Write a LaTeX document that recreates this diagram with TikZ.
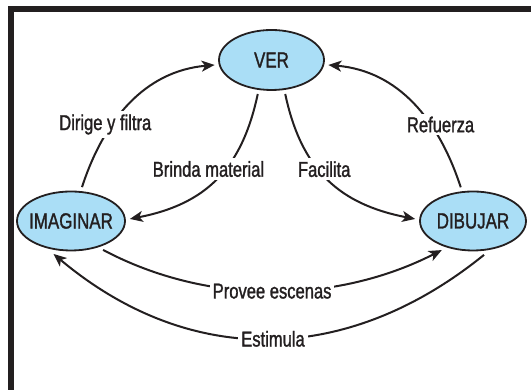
\documentclass[tikz,border=0pt]{standalone}
\usepackage{fontspec}
\setmainfont{Liberation Sans}[FakeStretch=0.77, UprightFeatures={FakeBold=1.3}]
\usetikzlibrary{shapes.geometric,arrows.meta}
\definecolor{ink}{RGB}{35,31,32}
\definecolor{bubble}{RGB}{170,222,246}

\begin{document}
\begin{tikzpicture}[
x=1pt, y=1pt,
stage/.style={
  ellipse,
  draw=ink,
  line width=1.8pt,
  fill=bubble,
  text=ink,
  inner xsep=-12pt,
  inner ysep=0pt,
  outer sep=5pt,
  font=\fontsize{22}{24}\selectfont
  },
tag/.style={
  fill=white,
  text=ink,
  inner sep=3pt,
  font=\fontsize{21.5}{24}\selectfont
  },
flow/.style={
  ->,
  draw=ink,
  line width=2pt
  },
>={Stealth[length=13pt,width=11pt,inset=3.5pt]}
]
\useasboundingbox (0,0) rectangle (531,390);
% frame
\draw[ink, line width=6pt, line join=miter] (10.5,0) -- (10.5,381) -- (531,381);

\node[stage, minimum width=105pt, minimum height=60pt] (ver) at (271.5,330) {VER};
\node[stage, minimum width=108pt, minimum height=59pt] (imag) at (71,169) {IMAGINAR};
\node[stage, minimum width=106pt, minimum height=59pt] (dib) at (473,169) {DIBUJAR};

\draw[flow] (imag.72) to[out=72, in=185]
  node[tag, pos=0.35, xshift=-7pt] (dirige) {Dirige y filtra} (ver.185);
\draw[flow] (dib.110) to[out=108, in=-5]
  node[tag, pos=0.35, xshift=10pt] (refuerza) {Refuerza} (ver.-5);
\draw[flow] (ver.248) to[out=258, in=11, looseness=1.1]
  node[tag, pos=0.42, xshift=-17pt] (brinda) {Brinda material} (imag.2);
\draw[flow] (ver.292) to[out=282, in=169, looseness=1.1]
  node[tag, pos=0.42, xshift=6pt] (facilita) {Facilita} (dib.178);
\draw[flow] (imag.-42) to[out=-28, in=207, looseness=0.9]
  node[tag, pos=0.5] (provee) {Provee escenas} (dib.223);
\draw[flow] (dib.288) to[out=219, in=-40, looseness=1.05]
  node[tag, pos=0.5, xshift=5pt] (estimula) {Estimula} (imag.242);
\end{tikzpicture}
\end{document}
